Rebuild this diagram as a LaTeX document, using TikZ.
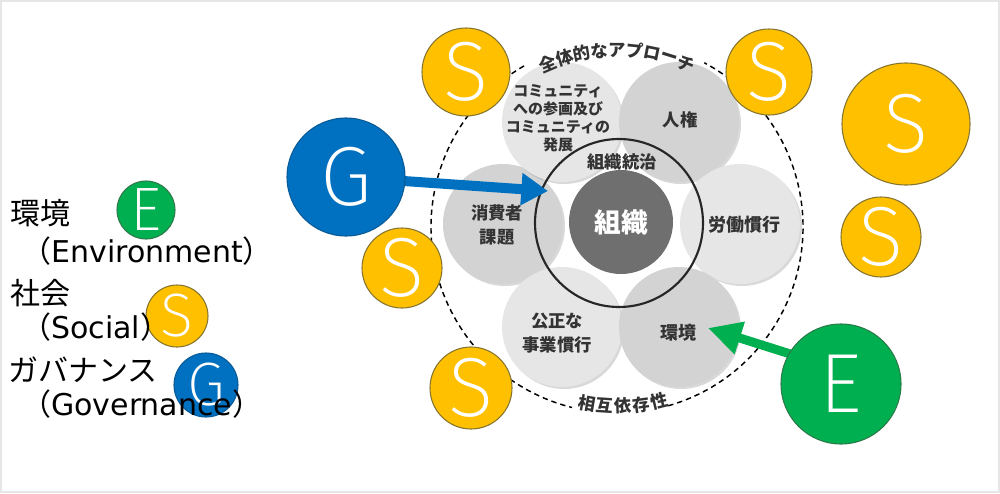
\documentclass[tikz,border=0pt]{standalone}
\usepackage{fontspec}
\setmainfont{Noto Sans CJK JP}
\newfontfamily\lat{DejaVu Sans}
\IfFontExistsTF{Fira Sans ExtraLight}{\newfontfamily\thinfont{Fira Sans ExtraLight}}{%
 \IfFontExistsTF{FiraSans-ExtraLight.otf}{\newfontfamily\thinfont{FiraSans-ExtraLight.otf}}{%
  \IfFontExistsTF{Fira Sans Light}{\newfontfamily\thinfont{Fira Sans Light}}{%
   \IfFontExistsTF{FiraSans-Light.otf}{\newfontfamily\thinfont{FiraSans-Light.otf}}{%
    \newfontfamily\thinfont{Noto Sans}}}}}
\usetikzlibrary{arrows.meta,shadows,shapes.geometric,calc}
\definecolor{sy}{HTML}{FFC000}
\definecolor{syd}{HTML}{857530}
\definecolor{gb}{HTML}{0070C0}
\definecolor{gbd}{HTML}{0A5A96}
\definecolor{eg}{HTML}{00B050}
\definecolor{egd}{HTML}{2C7A4A}
\definecolor{txt}{HTML}{333333}
\definecolor{orgc}{HTML}{6F6F6F}
\definecolor{frame}{HTML}{E6E6E6}
\definecolor{ga}{HTML}{E6E6E6}
\definecolor{gc}{HTML}{D3D3D3}
\begin{document}
\begin{tikzpicture}[x=0.75pt,y=-0.75pt,
  ball/.style={circle,inner sep=0pt,minimum size=#1*1.5pt,text=white},
  sb/.style={ball=#1,fill=sy,draw=syd,line width=0.8pt},
  gbs/.style={ball=#1,fill=gb,draw=gbd,line width=0.8pt},
  ebs/.style={ball=#1,fill=eg,draw=egd,line width=0.8pt},
  bigl/.style={font=\thinfont\fontsize{63}{63}\selectfont},
  smalll/.style={font=\thinfont\fontsize{46}{46}\selectfont},
  topic/.style={circle,minimum size=90pt,inner sep=0pt,fill=#1,
    drop shadow={opacity=0.3,shadow xshift=1.5pt,shadow yshift=-1.5pt}},
  tlabel/.style={text=txt,align=center,inner sep=0pt},
  arcchar/.style={text=txt,font=\bfseries\fontsize{13}{13}\selectfont,inner sep=0pt},
  legtext/.style={anchor=base west,inner sep=0pt,font=\fontsize{22.5}{22.5}\selectfont},
  outerdash/.style={line width=1.1pt,dash pattern=on 4pt off 3pt},
  garrow/.style={draw=gb,line width=7.5pt,-{Triangle[length=20pt,width=23pt]}},
  earrow/.style={draw=eg,line width=6.75pt,-{Triangle[length=25pt,width=24pt]}}
]
\useasboundingbox (0,0) rectangle (1000,493);
\draw[frame,line width=1.5pt] (1,1) rectangle (999,492);

% outer dashed circle (interrupted by the two curved labels)
\draw[outerdash] (617,227) ++(-120:186) arc[start angle=-120,end angle=-256,radius=186];
\draw[outerdash] (617,227) ++(-286:186) arc[start angle=-286,end angle=-422,radius=186];

% six subject circles
\node[topic=gc] (cons) at (503,224) {};
\node[topic=ga] (comm) at (562,122) {};
\node[topic=gc] (hr) at (679,122) {};
\node[topic=ga] (labour) at (740,224) {};
\node[topic=ga] (fair) at (562,327) {};
\node[topic=gc] (env) at (679,327) {};

% governance ring
\draw[line width=1.6pt,draw=black!85] (619,223) circle[radius=84];

% organisation
\node[circle,minimum size=78pt,inner sep=0pt,fill=orgc,text=white,
  font=\bfseries\fontsize{20}{20}\selectfont] (org) at (621,222) {組織};

% texts
\node[tlabel,font=\bfseries\fontsize{11.25}{13.5}\selectfont] (tcomm) at (558,118)
  {コミュニティ\\への参画及び\\コミュニティの\\発展};
\node[tlabel,font=\bfseries\fontsize{13}{13}\selectfont] (thr) at (680,120) {人権};
\node[tlabel,font=\bfseries\fontsize{13}{13}\selectfont] (tgov) at (622,162) {組織統治};
\node[tlabel,font=\bfseries\fontsize{13}{18.5}\selectfont] (tcons) at (497,225) {消費者\\課題};
\node[tlabel,font=\bfseries\fontsize{13.5}{13.5}\selectfont] (tlab) at (744,225) {労働慣行};
\node[tlabel,font=\bfseries\fontsize{13}{17.5}\selectfont] (tfair) at (557,333) {公正な\\事業慣行};
\node[tlabel,font=\bfseries\fontsize{13.5}{13.5}\selectfont] (tenv) at (678,333) {環境};

% curved labels
\foreach \ch [count=\i from 0] in {全,体,的,な,ア,プ,ロ,ー,チ}{
  \pgfmathsetmacro\ang{113-5.75*\i}
  \pgfmathsetmacro\rot{\ang-90}
  \node[arcchar,rotate=\rot] (top\i) at ($(617,227)+(-\ang:177)$) {\ch};
}
\foreach \ch [count=\i from 0] in {相,互,依,存,性}{
  \pgfmathsetmacro\ang{260.3+5.85*\i}
  \pgfmathsetmacro\rot{\ang-270}
  \node[arcchar,rotate=\rot] (bot\i) at ($(617,227)+(-\ang:179)$) {\ch};
}

% arrows
\coordinate (gstart) at (346,177);
\coordinate (gtip) at (548,191);
\coordinate (estart) at (841,370);
\coordinate (etip) at (708,328);
\draw[garrow] (gstart) -- (gtip);
\draw[earrow] (estart) -- (etip);

% big letter circles
\node[gbs=59,bigl] (G) at (346,177) {G};
\node[ebs=60,bigl] (E) at (841,384) {E};
\node[sb=44,bigl] (s1) at (466,72) {S};
\node[sb=43,bigl] (s2) at (769,72) {S};
\node[ellipse,inner sep=0pt,minimum width=96pt,minimum height=91.5pt,fill=sy,draw=syd,
  line width=0.8pt,text=white,bigl] (s3) at (906,124) {S};
\node[sb=40,bigl] (s4) at (881,237) {S};
\node[sb=40,bigl] (s5) at (402,268) {S};
\node[sb=41,bigl] (s6) at (471,388) {S};

% legend (circles first, text on top)
\node[ebs=29,smalll] (lE) at (146,210) {E};
\node[sb=31,smalll] (lS) at (177,316) {S};
\node[gbs=32,smalll] (lG) at (206,385) {G};
\node[legtext] (l1) at (10,224) {環境};
\node[legtext] (l2) at (21,262) {（{\lat Environment}）};
\node[legtext] (l3) at (10,304) {社会};
\node[legtext] (l4) at (21,338) {（{\lat Social}）};
\node[legtext] (l5) at (8,381) {ガバナンス};
\node[legtext] (l6) at (21,415) {（{\lat Governance}）};
\end{tikzpicture}
\end{document}
